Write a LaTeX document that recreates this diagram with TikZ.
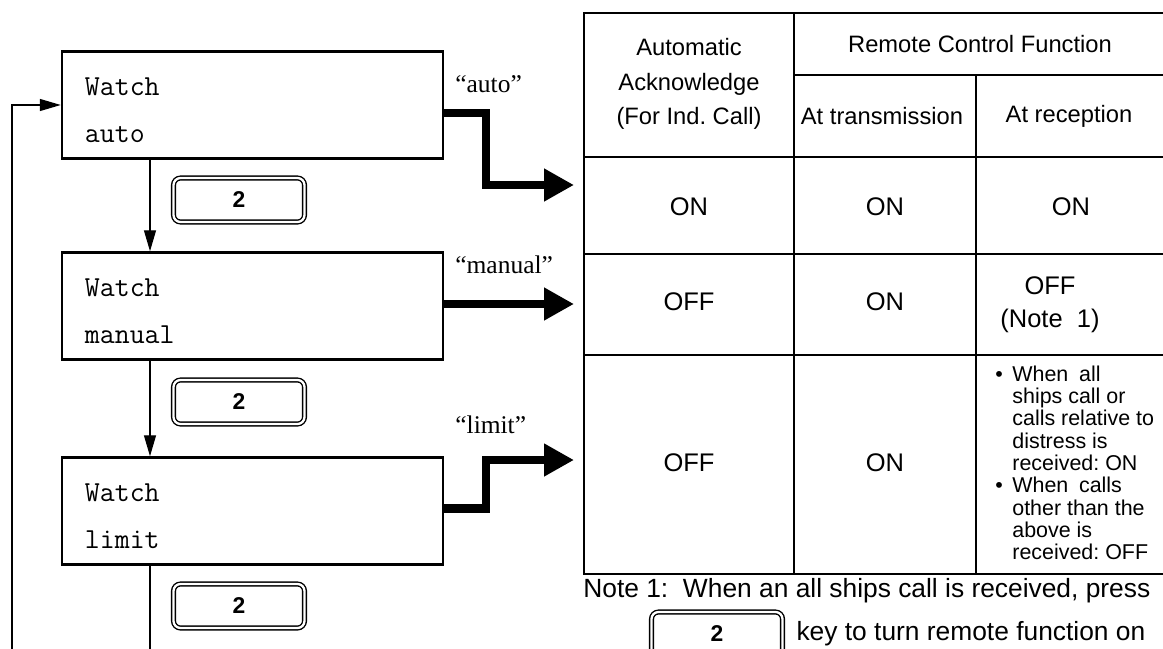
\documentclass[tikz,border=0pt]{standalone}
\usepackage{fontspec}
\setsansfont{Liberation Sans}
\newfontfamily\quotefont{Liberation Serif}
\usetikzlibrary{arrows.meta,positioning,calc}

\tikzset{
	screen/.style={draw, line width=1.4pt, text width=67mm, inner xsep=4.6mm, minimum height=21.4mm, align=left, font=\ttfamily\fontsize{16.5}{26.6}\selectfont, execute at begin node={\rule{0pt}{5.6mm}}},
	keycap/.style={draw, double, line width=0.8pt, double distance=1.3pt, rounded corners=1.4mm, minimum width=26.2mm, minimum height=8.8mm, font=\sffamily\bfseries\fontsize{13}{14}\selectfont},
	flow/.style={line width=0.75pt, -{Triangle[length=4.2mm,width=2.4mm]}},
	bigarrow/.style={line width=1.7mm, -{Triangle[length=6mm,width=6.2mm]}},
	modelabel/.style={font=\quotefont\fontsize{14.5}{16}\selectfont, anchor=west, inner sep=0pt},
	head/.style={font=\sffamily\fontsize{13.5}{19.5}\selectfont, align=center, inner sep=0pt},
	cell/.style={font=\sffamily\fontsize{14.5}{18.7}\selectfont, align=center, inner sep=0pt},
	bullets/.style={font=\sffamily\fontsize{12.2}{12.7}\selectfont, inner sep=0pt},
	notetext/.style={font=\sffamily\fontsize{15}{18}\selectfont, inner sep=0pt},
	tabline/.style={line width=1pt}
}

\begin{document}
\frenchspacing
\begin{tikzpicture}[x=0.2mm, y=-0.2mm]

	% page frame
	\path[use as bounding box, clip] (0,0) rectangle (1163,649);

	% watch mode screens
	\node[screen] (wauto) at (252.5,105) {Watch\\auto};
	\node[screen] (wmanual) at (252.5,306) {Watch\\manual};
	\node[screen] (wlimit) at (252.5,511) {Watch\\limit};

	% key presses
	\node[keycap] (keyA) at (239,200) {2};
	\node[keycap] (keyB) at (239,402) {2};
	\node[keycap] (keyC) at (239,606) {2};

	% flow down and back up
	\coordinate (downx) at (150,649);
	\coordinate (loopstart) at (12,649);
	\draw[flow] (wauto.south -| downx) -- (wmanual.north -| downx);
	\draw[flow] (wmanual.south -| downx) -- (wlimit.north -| downx);
	\draw[line width=0.75pt] (wlimit.south -| downx) -- (downx);
	\draw[flow] (loopstart) |- (wauto.west);

	% mode labels and thick arrows
	\node[modelabel] (lauto) at (455,84) {“auto”};
	\node[modelabel] (lmanual) at (455,265) {“manual”};
	\node[modelabel] (llimit) at (455,425) {“limit”};

	\coordinate (autotip) at (574,185);
	\coordinate (manualtip) at (574,304);
	\coordinate (limittip) at (574,460);
	\draw[bigarrow] ([yshift=-1.6mm]wauto.east) -- ++(42,0) |- (autotip);
	\draw[bigarrow] (wmanual.east |- manualtip) -- (manualtip);
	\draw[bigarrow] ([yshift=0.5mm]wlimit.east) -- ++(42,0) |- (limittip);

	% table grid
	\draw[line width=1.3pt] (1163,13) -- (584,13) -- (584,574) -- (1163,574);
	\foreach \y in {157,254,355}
		\draw[tabline] (584,\y) -- (1163,\y);
	\draw[tabline] (794,75) -- (1163,75);
	\draw[tabline] (794,13) -- (794,574);
	\draw[tabline] (976,75) -- (976,574);

	% table head
	\node[head] (ackhead) at (689,84) {Automatic\\Acknowledge\\(For Ind. Call)};
	\node[head] (remhead) at (980,44) {Remote Control Function};
	\node[head] (txhead) at (882,116) {At transmission};
	\node[head] (rxhead) at (1069,116) {At reception};

	% table rows
	\node[cell] (ackauto) at (689,207) {ON};
	\node[cell] (txauto) at (885,207) {ON};
	\node[cell] (rxauto) at (1071,207) {ON};

	\node[cell] (ackmanual) at (689,302) {OFF};
	\node[cell] (txmanual) at (885,302) {ON};
	\node[cell] (rxmanual) at (1050,305) {OFF\\(Note\ \ 1)};

	\node[cell] (acklimit) at (689,463) {OFF};
	\node[cell] (txlimit) at (885,463) {ON};
	\node[bullets, anchor=west] (rxlimit) at (995,466) {%
		\begin{tabular}{@{}l@{\hspace{1.9mm}}l@{}}
			\textbullet & When\enspace all\\
			& ships call or\\
			& calls relative to\\
			& distress is\\
			& received: ON\\
			\textbullet & When\enspace calls\\
			& other than the\\
			& above is\\
			& received: OFF
		\end{tabular}};

	% note under the table
	\node[notetext, anchor=base west] (note) at (583,597) {Note 1:\ \ When an all ships call is received, press};
	\node[keycap] (keyD) at (717,634) {2};
	\node[notetext, right=2.6mm of keyD] (notekey) {key to turn remote function on};

\end{tikzpicture}
\end{document}
